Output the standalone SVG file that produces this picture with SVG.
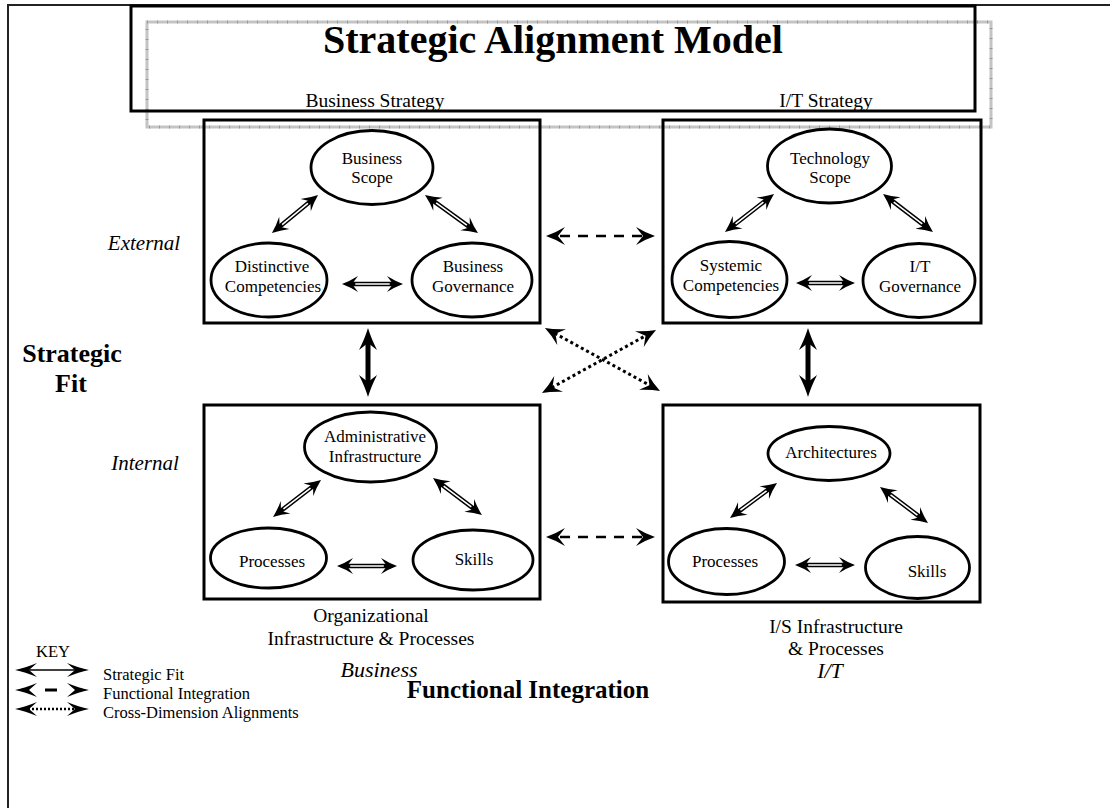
<svg xmlns="http://www.w3.org/2000/svg" width="1110" height="808" viewBox="0 0 1110 808">
<style>
.t{font-family:"Liberation Serif","Times New Roman",serif;fill:#000}
.n{font-size:17px;text-anchor:middle}
.lab{font-size:19.5px;text-anchor:middle}
.it{font-style:italic}
.b{font-weight:bold}
.box{fill:none;stroke:#000;stroke-width:3}
.ell{fill:#fff;stroke:#000;stroke-width:2.8}
.sf{stroke:#000;stroke-width:4.5;fill:none;marker-start:url(#hs);marker-end:url(#hs)}
.hol{stroke:#fff;stroke-width:1.6;fill:none;stroke-dasharray:0 10 80 100}
.vf{stroke:#000;stroke-width:5;fill:none;marker-start:url(#hv);marker-end:url(#hv)}
.fi{stroke:#000;stroke-width:2.6;fill:none;stroke-dasharray:10 8;marker-start:url(#hd);marker-end:url(#hd)}
.cd{stroke:#000;stroke-width:3;fill:none;stroke-dasharray:3 3;marker-start:url(#hd);marker-end:url(#hd)}
</style>
<defs>
<marker id="hs" markerUnits="userSpaceOnUse" viewBox="-17 -9 18 18" refX="-9" refY="0" markerWidth="18" markerHeight="18" orient="auto-start-reverse">
<path d="M0,0 Q-8,-3 -16,-8 L-10,0 L-16,8 Q-8,3 0,0 Z" fill="#000"/>
</marker>
<marker id="hv" markerUnits="userSpaceOnUse" viewBox="-23 -10 24 20" refX="-14" refY="0" markerWidth="24" markerHeight="20" orient="auto-start-reverse">
<path d="M0,0 Q-10,-3 -22,-9 L-15,0 L-22,9 Q-10,3 0,0 Z" fill="#000"/>
</marker>
<marker id="hd" markerUnits="userSpaceOnUse" viewBox="-20 -10 21 20" refX="-11" refY="0" markerWidth="21" markerHeight="20" orient="auto-start-reverse">
<path d="M0,0 Q-9,-3 -19,-9 L-12,0 L-19,9 Q-9,3 0,0 Z" fill="#000"/>
</marker>
<marker id="hk" markerUnits="userSpaceOnUse" viewBox="-23 -8 24 16" refX="-13" refY="0" markerWidth="24" markerHeight="16" orient="auto-start-reverse">
<path d="M0,0 Q-10,-2 -22,-7 L-14,0 L-22,7 Q-10,2 0,0 Z" fill="#000"/>
</marker>
</defs>
<rect width="1110" height="808" fill="#fff"/>
<g id="frame">
<path d="M8,808 V5 H1110" fill="none" stroke="#222" stroke-width="2"/>
</g>
<g id="title">
<rect x="147" y="22" width="844" height="105" fill="none" stroke="#c4c4c4" stroke-width="3"/>
<rect x="147" y="22" width="844" height="105" fill="none" stroke="#999" stroke-width="3" stroke-dasharray="1 9"/>
<rect x="131" y="6" width="844" height="105" fill="none" stroke="#000" stroke-width="3"/>
<text class="t b" x="553" y="53" font-size="40" text-anchor="middle">Strategic Alignment Model</text>
<text class="t lab" x="375" y="107">Business Strategy</text>
<text class="t lab" x="826" y="107">I/T Strategy</text>
</g>
<g id="side-labels">
<text class="t it" x="144" y="250" font-size="21" text-anchor="middle">External</text>
<text class="t b" x="72" y="362" font-size="26" text-anchor="middle">Strategic</text>
<text class="t b" x="71" y="392" font-size="26" text-anchor="middle">Fit</text>
<text class="t it" x="145" y="470" font-size="21" text-anchor="middle">Internal</text>
<text class="t lab" x="371" y="622">Organizational</text>
<text class="t lab" x="371" y="645">Infrastructure &amp; Processes</text>
<text class="t lab" x="836" y="633">I/S Infrastructure</text>
<text class="t lab" x="836" y="655">&amp; Processes</text>
<text class="t it" x="379" y="677" font-size="22" text-anchor="middle">Business</text>
<text class="t it" x="830" y="678" font-size="22" text-anchor="middle">I/T</text>
<text class="t b" x="528" y="698" font-size="25" text-anchor="middle">Functional Integration</text>
</g>
<g id="business-strategy">
<rect class="box" x="204" y="120" width="336" height="203"/>
<g id="business-scope"><ellipse class="ell" cx="372" cy="167.5" rx="61" ry="37"/>
<text class="t n" x="372" y="164">Business</text><text class="t n" x="372" y="183">Scope</text></g>
<g id="distinctive-competencies"><ellipse class="ell" cx="269" cy="280" rx="58" ry="37"/>
<text class="t n" x="272" y="272">Distinctive</text><text class="t n" x="273" y="292">Competencies</text></g>
<g id="business-governance"><ellipse class="ell" cx="472" cy="280" rx="60" ry="37"/>
<text class="t n" x="473" y="272">Business</text><text class="t n" x="473" y="292">Governance</text></g>
</g>
<g id="it-strategy">
<rect class="box" x="663" y="120" width="318" height="203"/>
<g id="technology-scope"><ellipse class="ell" cx="829.5" cy="166" rx="62" ry="37"/>
<text class="t n" x="830" y="164">Technology</text><text class="t n" x="830" y="183">Scope</text></g>
<g id="systemic-competencies"><ellipse class="ell" cx="729.5" cy="279.5" rx="57.5" ry="38"/>
<text class="t n" x="731" y="271">Systemic</text><text class="t n" x="731" y="291">Competencies</text></g>
<g id="it-governance"><ellipse class="ell" cx="919" cy="280.5" rx="56" ry="37"/>
<text class="t n" x="920" y="272">I/T</text><text class="t n" x="920" y="292">Governance</text></g>
</g>
<g id="organizational-infrastructure">
<rect class="box" x="204" y="405" width="336" height="194"/>
<g id="administrative-infrastructure"><ellipse class="ell" cx="370.5" cy="447" rx="66" ry="35"/>
<text class="t n" x="375" y="442">Administrative</text><text class="t n" x="375" y="462">Infrastructure</text></g>
<g id="business-processes"><ellipse class="ell" cx="268.5" cy="558" rx="58" ry="30"/>
<text class="t n" x="272" y="567">Processes</text></g>
<g id="business-skills"><ellipse class="ell" cx="473" cy="560" rx="60" ry="30"/>
<text class="t n" x="474" y="565">Skills</text></g>
</g>
<g id="is-infrastructure">
<rect class="box" x="663" y="405" width="317" height="197"/>
<g id="architectures"><ellipse class="ell" cx="829" cy="453.5" rx="61" ry="27"/>
<text class="t n" x="831" y="458">Architectures</text></g>
<g id="is-processes"><ellipse class="ell" cx="726.5" cy="561.5" rx="58" ry="33"/>
<text class="t n" x="725" y="567">Processes</text></g>
<g id="is-skills"><ellipse class="ell" cx="917.5" cy="567.5" rx="52" ry="31"/>
<text class="t n" x="927" y="577">Skills</text></g>
</g>
<g id="connectors">
<line class="sf" x1="278.9" y1="227.3" x2="311.1" y2="200.7"/><line class="hol" pathLength="100" x1="278.9" y1="227.3" x2="311.1" y2="200.7"/>
<line class="sf" x1="432.3" y1="200.2" x2="470.7" y2="227.8"/><line class="hol" pathLength="100" x1="432.3" y1="200.2" x2="470.7" y2="227.8"/>
<line class="sf" x1="351" y1="284" x2="394" y2="284"/><line class="hol" pathLength="100" x1="351" y1="284" x2="394" y2="284"/>
<line class="sf" x1="732.1" y1="226.5" x2="766.9" y2="199.5"/><line class="hol" pathLength="100" x1="732.1" y1="226.5" x2="766.9" y2="199.5"/>
<line class="sf" x1="890.2" y1="199.4" x2="925.8" y2="226.6"/><line class="hol" pathLength="100" x1="890.2" y1="199.4" x2="925.8" y2="226.6"/>
<line class="sf" x1="805" y1="283" x2="846" y2="283"/><line class="hol" pathLength="100" x1="805" y1="283" x2="846" y2="283"/>
<line class="sf" x1="280.1" y1="511.5" x2="313.9" y2="485.5"/><line class="hol" pathLength="100" x1="280.1" y1="511.5" x2="313.9" y2="485.5"/>
<line class="sf" x1="440.2" y1="483.4" x2="474.8" y2="509.6"/><line class="hol" pathLength="100" x1="440.2" y1="483.4" x2="474.8" y2="509.6"/>
<line class="sf" x1="346" y1="566" x2="388" y2="566"/><line class="hol" pathLength="100" x1="346" y1="566" x2="388" y2="566"/>
<line class="sf" x1="737.2" y1="512.6" x2="769.8" y2="488.4"/><line class="hol" pathLength="100" x1="737.2" y1="512.6" x2="769.8" y2="488.4"/>
<line class="sf" x1="887.2" y1="492.4" x2="920.8" y2="517.6"/><line class="hol" pathLength="100" x1="887.2" y1="492.4" x2="920.8" y2="517.6"/>
<line class="sf" x1="804" y1="565" x2="846" y2="565"/><line class="hol" pathLength="100" x1="804" y1="565" x2="846" y2="565"/>
<line class="vf" x1="368" y1="342" x2="368" y2="383"/>
<line class="vf" x1="808" y1="342" x2="808" y2="383"/>
<line class="fi" x1="557" y1="236" x2="644" y2="236" stroke-dashoffset="-3"/>
<line class="fi" x1="557" y1="537" x2="644" y2="537" stroke-dashoffset="-3"/>
<line class="cd" x1="554.6" y1="333.3" x2="650.4" y2="385.7"/>
<line class="cd" x1="551.6" y1="387.7" x2="646.4" y2="335.3"/>
</g>
<g id="key">
<text class="t" x="53" y="657" font-size="16.5" text-anchor="middle">KEY</text>
<line x1="28" y1="670" x2="76" y2="670" stroke="#000" stroke-width="1.6" marker-start="url(#hk)" marker-end="url(#hk)"/>
<line x1="28" y1="690" x2="76" y2="690" stroke="#000" stroke-width="3" stroke-dasharray="0 17 12 100" marker-start="url(#hk)" marker-end="url(#hk)"/>
<line x1="28" y1="709" x2="76" y2="709" stroke="#000" stroke-width="2.5" stroke-dasharray="2 2" marker-start="url(#hk)" marker-end="url(#hk)"/>
<text class="t" x="103" y="680" font-size="16.5">Strategic Fit</text>
<text class="t" x="103" y="699" font-size="16.5">Functional Integration</text>
<text class="t" x="103" y="718" font-size="16.5">Cross-Dimension Alignments</text>
</g>
</svg>
